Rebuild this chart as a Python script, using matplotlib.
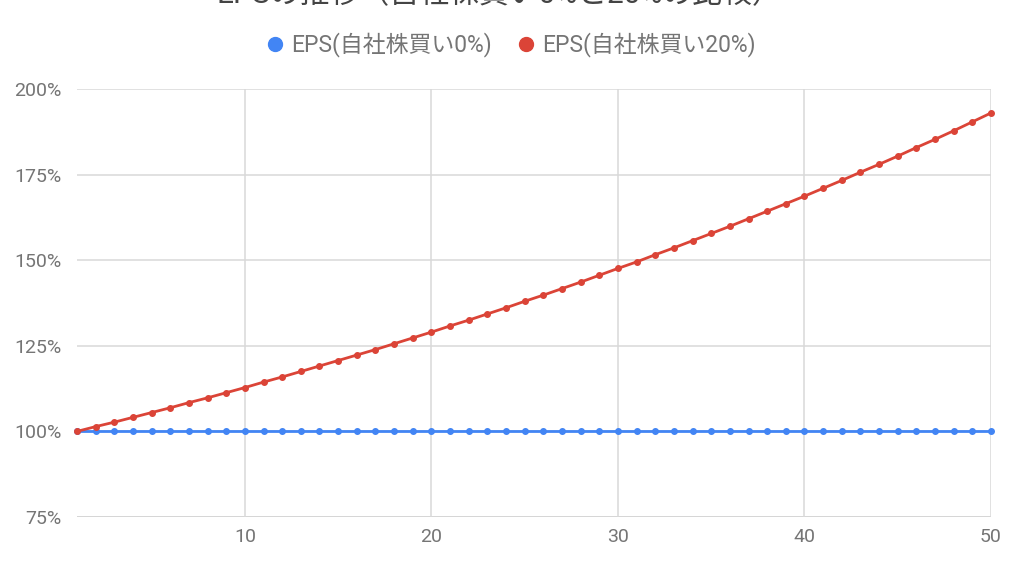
import numpy as np
import matplotlib.pyplot as plt
from matplotlib.ticker import FuncFormatter
from matplotlib.lines import Line2D

plt.rcParams['font.family'] = ['Roboto', 'Noto Sans CJK JP', 'DejaVu Sans']

title = 'EPSの推移（自社株買い0%と20%の比較）'
labels = ['EPS(自社株買い0%)', 'EPS(自社株買い20%)']
years = list(range(1, 51))
eps_0 = [100.0] * 50
eps_20 = [100.0, 101.4, 102.7, 104.1, 105.5, 106.9, 108.4, 109.8, 111.3, 112.8,
          114.4, 115.9, 117.5, 119.1, 120.7, 122.3, 123.9, 125.6, 127.3, 129.0,
          130.8, 132.5, 134.3, 136.1, 138.0, 139.8, 141.7, 143.6, 145.6, 147.6,
          149.5, 151.6, 153.6, 155.7, 157.8, 159.9, 162.1, 164.3, 166.5, 168.7,
          171.0, 173.3, 175.7, 178.0, 180.4, 182.9, 185.3, 187.8, 190.4, 193.0]

blue = '#4285F4'
red = '#DB4437'
grey = '#757575'

fig = plt.figure(figsize=(10.2, 5.74), dpi=100)
ax = fig.add_axes([77 / 1020, 1 - 517 / 574, (991 - 77) / 1020, (517 - 89) / 574])

ax.plot(years, eps_0, color=blue, lw=2, marker='o', ms=4, zorder=3, clip_on=False)
ax.plot(years, eps_20, color=red, lw=2, marker='o', ms=4, zorder=4, clip_on=False)

ax.set_xlim(1, 50)
ax.set_ylim(75, 200)
ax.set_xticks([10, 20, 30, 40, 50])
ax.set_yticks([75, 100, 125, 150, 175, 200])
ax.yaxis.set_major_formatter(FuncFormatter(lambda v, p: f'{v:.0f}%'))
ax.grid(True, color='#d9d9d9', lw=1.1, zorder=0)
ax.axhline(75, color='#c8c8c8', lw=1.3, zorder=1)
for s in ax.spines.values():
    s.set_visible(False)
ax.tick_params(length=0, labelsize=14, colors=grey)
ax.tick_params(axis='x', pad=8)
ax.tick_params(axis='y', pad=11)

fig.text(0.49, 1 + 5 / 574, title, ha='center', va='center', fontsize=21.5, color='#444444')

handles = [Line2D([], [], color=c, marker='o', ls='', ms=10) for c in (blue, red)]
fig.legend(handles, labels, loc='center', bbox_to_anchor=(0.5, 1 - 45 / 574), ncol=2,
           frameon=False, fontsize=16.5, labelcolor=grey, handletextpad=0.2,
           columnspacing=1.0, handlelength=1.0)

fig.savefig('out.png', dpi=100, facecolor='white')
